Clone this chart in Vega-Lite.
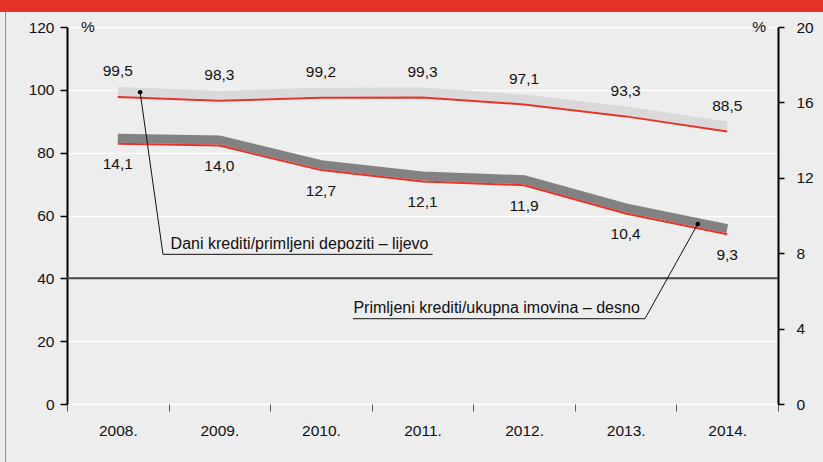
{
  "$schema": "https://vega.github.io/schema/vega-lite/v6.json",
  "width": 711,
  "height": 377,
  "autosize": {"type": "none"},
  "padding": {"left": 67, "top": 27, "right": 45, "bottom": 58},
  "background": "#ededed",
  "config": {
    "view": {"stroke": null},
    "locale": {"number": {"decimal": ",", "thousands": ".", "grouping": [3], "currency": ["", ""]}},
    "font": "Liberation Sans",
    "text": {"font": "Liberation Sans", "fontSize": 15.5, "color": "#111111"},
    "axis": {"labelFont": "Liberation Sans", "labelFontSize": 15.5, "labelColor": "#111111"}
  },
  "data": {
    "values": [
      {"year": 2008, "dep": 99.5, "imov": 14.1},
      {"year": 2009, "dep": 98.3, "imov": 14.0},
      {"year": 2010, "dep": 99.2, "imov": 12.7},
      {"year": 2011, "dep": 99.3, "imov": 12.1},
      {"year": 2012, "dep": 97.1, "imov": 11.9},
      {"year": 2013, "dep": 93.3, "imov": 10.4},
      {"year": 2014, "dep": 88.5, "imov": 9.3}
    ]
  },
  "layer": [
    {
      "layer": [
        {
          "data": {"values": [{}]},
          "mark": {"type": "rule", "color": "#444444", "strokeWidth": 2},
          "encoding": {
            "y": {
              "datum": 40, "type": "quantitative",
              "scale": {"domain": [0, 120], "nice": false, "zero": true},
              "axis": {
                "orient": "left", "values": [0, 20, 40, 60, 80, 100, 120],
                "tickSize": 7, "tickColor": "#000000", "tickWidth": 1.5,
                "domainColor": "#000000", "domainWidth": 2,
                "labelPadding": 6, "grid": true, "gridColor": "#ffffff", "gridWidth": 1.5,
                "title": null
              }
            }
          }
        },
        {
          "mark": {"type": "line", "color": "#d9d9d9", "strokeWidth": 9, "strokeCap": "butt", "strokeJoin": "miter"},
          "encoding": {
            "x": {
              "field": "year", "type": "quantitative",
              "scale": {"domain": [2007.5, 2014.5], "nice": false, "zero": false},
              "axis": {
                "values": [2007.5, 2008.5, 2009.5, 2010.5, 2011.5, 2012.5, 2013.5, 2014.5],
                "domain": false, "grid": false, "tickSize": 7, "tickColor": "#555555", "tickWidth": 1,
                "labelOffset": 50.8, "labelPadding": 12, "labelFlush": false, "labelOverlap": false, "labelBound": false,
                "labelExpr": "datum.value < 2014 ? (datum.value + 0.5) + '.' : ''",
                "title": null
              }
            },
            "y": {"field": "dep", "type": "quantitative"}
          }
        },
        {
          "mark": {"type": "line", "color": "#e6332a", "strokeWidth": 2, "yOffset": 5.5, "strokeJoin": "miter"},
          "encoding": {
            "x": {"field": "year", "type": "quantitative"},
            "y": {"field": "dep", "type": "quantitative"}
          }
        },
        {
          "mark": {"type": "text", "dy": -20, "baseline": "middle"},
          "encoding": {
            "x": {"field": "year", "type": "quantitative"},
            "y": {"field": "dep", "type": "quantitative"},
            "text": {"field": "dep", "type": "quantitative", "format": ".1f"}
          }
        },
        {
          "data": {"values": [{"t": "%"}]},
          "mark": {"type": "text", "dx": 14, "align": "left", "baseline": "middle"},
          "encoding": {
            "x": {"datum": 2007.5, "type": "quantitative"},
            "y": {"datum": 120, "type": "quantitative"},
            "text": {"field": "t"}
          }
        },
        {
          "data": {"values": [{"t": "%"}]},
          "mark": {"type": "text", "dx": -12, "align": "right", "baseline": "middle"},
          "encoding": {
            "x": {"datum": 2014.5, "type": "quantitative"},
            "y": {"datum": 120, "type": "quantitative"},
            "text": {"field": "t"}
          }
        },
        {
          "data": {"values": [{}]},
          "mark": {"type": "rect", "color": "#e6332a"},
          "encoding": {
            "x": {"datum": 2006.0, "type": "quantitative"},
            "x2": {"datum": 2015.5},
            "y": {"datum": 124.8, "type": "quantitative"},
            "y2": {"datum": 140}
          }
        },
        {
          "data": {"values": [{}]},
          "mark": {"type": "rule", "color": "#e6332a", "strokeWidth": 1, "opacity": 0.7},
          "encoding": {
            "x": {"datum": 2006.895, "type": "quantitative"},
            "y": {"datum": -20, "type": "quantitative"},
            "y2": {"datum": 126}
          }
        }
      ]
    },
    {
      "layer": [
        {
          "mark": {"type": "line", "color": "#828282", "strokeWidth": 9, "strokeCap": "butt", "strokeJoin": "miter"},
          "encoding": {
            "x": {"field": "year", "type": "quantitative"},
            "y": {
              "field": "imov", "type": "quantitative",
              "scale": {"domain": [0, 20], "nice": false, "zero": true},
              "axis": {
                "orient": "right", "values": [0, 4, 8, 12, 16, 20],
                "tickSize": 6, "tickColor": "#000000", "tickWidth": 1.5,
                "domainColor": "#000000", "domainWidth": 2,
                "labelPadding": 12, "grid": false, "title": null
              }
            }
          }
        },
        {
          "mark": {"type": "line", "color": "#e6332a", "strokeWidth": 2, "yOffset": 5.5, "strokeJoin": "miter"},
          "encoding": {
            "x": {"field": "year", "type": "quantitative"},
            "y": {"field": "imov", "type": "quantitative"}
          }
        },
        {
          "mark": {"type": "text", "dy": 26, "baseline": "middle"},
          "encoding": {
            "x": {"field": "year", "type": "quantitative"},
            "y": {"field": "imov", "type": "quantitative"},
            "text": {"field": "imov", "type": "quantitative", "format": ".1f"}
          }
        },
        {
          "data": {"values": [{}]},
          "mark": {"type": "rule", "color": "#111111", "strokeWidth": 1},
          "encoding": {
            "x": {"datum": 2008.22, "type": "quantitative"},
            "y": {"datum": 16.54, "type": "quantitative"},
            "x2": {"datum": 2008.445},
            "y2": {"datum": 7.94}
          }
        },
        {
          "data": {"values": [{}]},
          "mark": {"type": "rule", "color": "#111111", "strokeWidth": 1},
          "encoding": {
            "x": {"datum": 2008.445, "type": "quantitative"},
            "y": {"datum": 7.94, "type": "quantitative"},
            "x2": {"datum": 2011.1},
            "y2": {"datum": 7.94}
          }
        },
        {
          "data": {"values": [{}]},
          "mark": {"type": "point", "filled": true, "color": "#000000", "size": 22, "opacity": 1},
          "encoding": {
            "x": {"datum": 2008.22, "type": "quantitative"},
            "y": {"datum": 16.54, "type": "quantitative"}
          }
        },
        {
          "data": {"values": [{"label": "Dani krediti/primljeni depoziti – lijevo"}]},
          "mark": {"type": "text", "align": "left", "baseline": "alphabetic", "fontSize": 16},
          "encoding": {
            "x": {"datum": 2008.52, "type": "quantitative"},
            "y": {"datum": 8.21, "type": "quantitative"},
            "text": {"field": "label"}
          }
        },
        {
          "data": {"values": [{}]},
          "mark": {"type": "rule", "color": "#111111", "strokeWidth": 1},
          "encoding": {
            "x": {"datum": 2013.71, "type": "quantitative"},
            "y": {"datum": 9.55, "type": "quantitative"},
            "x2": {"datum": 2013.19},
            "y2": {"datum": 4.525}
          }
        },
        {
          "data": {"values": [{}]},
          "mark": {"type": "rule", "color": "#111111", "strokeWidth": 1},
          "encoding": {
            "x": {"datum": 2010.315, "type": "quantitative"},
            "y": {"datum": 4.525, "type": "quantitative"},
            "x2": {"datum": 2013.19},
            "y2": {"datum": 4.525}
          }
        },
        {
          "data": {"values": [{}]},
          "mark": {"type": "point", "filled": true, "color": "#000000", "size": 22, "opacity": 1},
          "encoding": {
            "x": {"datum": 2013.71, "type": "quantitative"},
            "y": {"datum": 9.55, "type": "quantitative"}
          }
        },
        {
          "data": {"values": [{"label": "Primljeni krediti/ukupna imovina – desno"}]},
          "mark": {"type": "text", "align": "left", "baseline": "alphabetic", "fontSize": 16},
          "encoding": {
            "x": {"datum": 2010.32, "type": "quantitative"},
            "y": {"datum": 4.84, "type": "quantitative"},
            "text": {"field": "label"}
          }
        }
      ]
    }
  ],
  "resolve": {"scale": {"y": "independent"}}
}
